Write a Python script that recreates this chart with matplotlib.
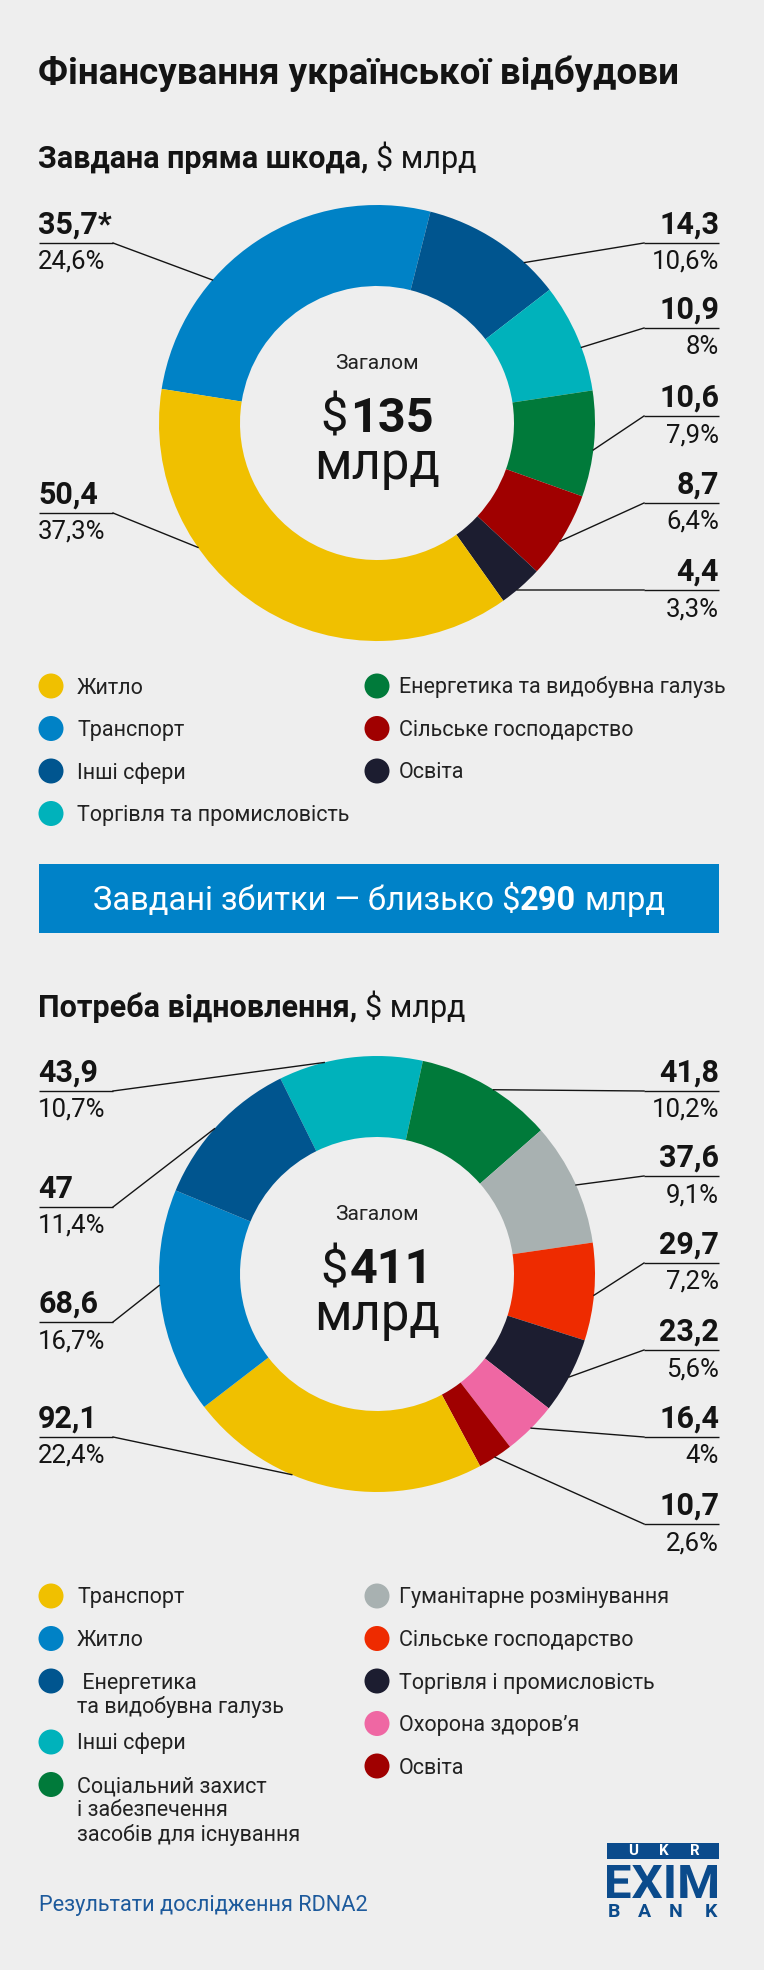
import numpy as np
import matplotlib
matplotlib.use("Agg")
import matplotlib.pyplot as plt
from matplotlib.patches import Circle, Rectangle, PathPatch
from matplotlib.textpath import TextPath
from matplotlib.font_manager import FontProperties
from matplotlib.transforms import Affine2D

plt.rcParams['font.family'] = ['Roboto', 'DejaVu Sans']

# ---- data: direct damage ($ bn), slices clockwise from the left
damage_labels = ["Транспорт", "Інші сфери", "Торгівля та промисловість",
                 "Енергетика та видобувна галузь", "Сільське господарство",
                 "Освіта", "Житло"]
damage_values = [35.7, 14.3, 10.9, 10.6, 8.7, 4.4, 50.4]
damage_notes = ["*", "", "", "", "", "", ""]
damage_shares = ["24,6%", "10,6%", "8%", "7,9%", "6,4%", "3,3%", "37,3%"]
damage_colors = ["#0082c6", "#00558f", "#00b2bb", "#007a3a", "#a00000",
                 "#1c1d30", "#f0c000"]
damage_total = "135"
damage_legend_left = ["Житло", "Транспорт", "Інші сфери", "Торгівля та промисловість"]
damage_legend_right = ["Енергетика та видобувна галузь", "Сільське господарство", "Освіта"]

# ---- data: recovery needs ($ bn), slices clockwise from the top
needs_labels = ["Інші сфери", "Соціальний захист\nі забезпечення\nзасобів для існування",
                "Гуманітарне розмінування", "Сільське господарство",
                "Торгівля і промисловість", "Охорона здоров’я", "Освіта",
                "Транспорт", "Житло", " Енергетика\nта видобувна галузь"]
needs_values = [43.9, 41.8, 37.6, 29.7, 23.2, 16.4, 10.7, 92.1, 68.6, 47.0]
needs_shares = ["10,7%", "10,2%", "9,1%", "7,2%", "5,6%", "4%", "2,6%",
                "22,4%", "16,7%", "11,4%"]
needs_colors = ["#00b2bb", "#007a3a", "#a8b1b1", "#ee2b00", "#1c1d30",
                "#ef67a3", "#a00000", "#f0c000", "#0082c6", "#00558f"]
needs_total = "411"
needs_legend_left = ["Транспорт", "Житло", " Енергетика\nта видобувна галузь",
                     "Інші сфери", "Соціальний захист\nі забезпечення\nзасобів для існування"]
needs_legend_right = ["Гуманітарне розмінування", "Сільське господарство",
                      "Торгівля і промисловість", "Охорона здоров’я", "Освіта"]

# ---- layout (pixels from the top)
W, H = 764, 1970
BG = "#eeeeee"
INK = "#141414"
CX, R_OUT, R_IN = 377, 218, 137
damage_cy, needs_cy = 423, 1274
damage_start, needs_start = 171, 116.3
damage_side = ["L", "R", "R", "R", "R", "R", "L"]
damage_ul = [243, 243, 328, 416, 503, 590, 513]
damage_anchor = [139, 47.4, 20.3, -7.1, -32.8, -50, 214.8]
needs_side = ["L", "R", "R", "R", "R", "R", "R", "L", "L", "L"]
needs_ul = [1091, 1091, 1176, 1263, 1350, 1437, 1524, 1437, 1322, 1207]
needs_anchor = [104, 57.7, 24.1, -5.6, -28.2, -45, -57.2, 247, 183, 138.2]


def Y(y):
    return H - y


fig = plt.figure(figsize=(W / 100, H / 100), dpi=100)
fig.patch.set_facecolor(BG)
ax = fig.add_axes([0, 0, 1, 1])
ax.set_facecolor(BG)
rend = fig.canvas.get_renderer()


def text_width(s, size, weight):
    t = ax.text(0, 0, s, fontsize=size, fontweight=weight)
    w = t.get_window_extent(renderer=rend).width
    t.remove()
    return w


def runs(x, y, parts, size, color, ha="left"):
    # parts: list of (string, weight, gap_after_in_spaces)
    sp = text_width("x x", size, "normal") - text_width("xx", size, "normal")
    widths = [text_width(s, size, w) for s, w, g in parts]
    total = sum(widths) + sum(g * sp for s, w, g in parts)
    if ha == "center":
        x = x - total / 2
    for (s, w, g), wd in zip(parts, widths):
        ax.text(x, Y(y), s, fontsize=size, fontweight=w, color=color,
                ha="left", va="baseline")
        x += wd + g * sp


def fmt(v):
    return f"{v:g}".replace(".", ",")


def donut(values, colors, start, cy, total, notes, shares, sides, uls, anchors):
    ax.pie(values, colors=colors, startangle=start, counterclock=False,
           radius=R_OUT, center=(CX, Y(cy)), frame=True,
           wedgeprops=dict(width=R_OUT - R_IN, linewidth=0))
    ax.text(CX, Y(cy - 54), "Загалом", fontsize=15, color="#222222",
            ha="center", va="baseline")
    runs(CX, cy + 9, [("$", "normal", 0.15), (total, "bold", 0)], 35, INK, ha="center")
    ax.text(CX, Y(cy + 56), "млрд", fontsize=36.5, color=INK, ha="center", va="baseline")
    for v, nt, sh, side, uy, ang in zip(values, notes, shares, sides, uls, anchors):
        px = CX + R_OUT * np.cos(np.radians(ang))
        py = Y(cy) + R_OUT * np.sin(np.radians(ang))
        if side == "L":
            x0, x1, xt, ha, inner = 39, 113, 38, "left", 113
        else:
            x0, x1, xt, ha, inner = 644, 719, 719, "right", 644
        ax.plot([x0, x1], [Y(uy), Y(uy)], color=INK, lw=1.0, solid_capstyle="butt")
        ax.plot([inner, px], [Y(uy), py], color=INK, lw=1.0)
        ax.text(xt, Y(uy - 9), fmt(v) + nt, fontsize=22, fontweight="bold",
                color=INK, ha=ha, va="baseline")
        ax.text(xt, Y(uy + 26), sh, fontsize=18.5, color=INK, ha=ha, va="baseline")


def legend(entries, colors, cx, tx, y0):
    y = y0
    for lab in entries:
        ax.add_patch(Circle((cx, Y(y)), 12.5, color=colors[lab.strip()], lw=0))
        lines = lab.split("\n")
        for i, ln in enumerate(lines):
            ax.text(tx, Y(y + 7.5 + 24.4 * i), ln, fontsize=15.5, color="#222222",
                    ha="left", va="baseline")
        y += 42.5 + 18.5 * (len(lines) - 1)


# title and first chart
ax.text(38, Y(84), "Фінансування української відбудови", fontsize=26.5,
        fontweight="bold", color=INK, ha="left", va="baseline")
runs(38, 168, [("Завдана пряма шкода,", "bold", 1), ("$ млрд", "normal", 0)], 22, INK)
donut(damage_values, damage_colors, damage_start, damage_cy, damage_total,
      damage_notes, damage_shares, damage_side, damage_ul, damage_anchor)
dcol = {k.strip(): c for k, c in zip(damage_labels, damage_colors)}
legend(damage_legend_left, dcol, 51, 77, 686)
legend(damage_legend_right, dcol, 377, 399, 686)

# banner
ax.add_patch(Rectangle((39, Y(933)), 680, 69, color="#0082c8", lw=0))
runs(379, 910, [("Завдані збитки — близько $", "normal", 0), ("290", "bold", 1),
                ("млрд", "normal", 0)], 23.5, "white", ha="center")

# second chart
runs(38, 1017, [("Потреба відновлення,", "bold", 1), ("$ млрд", "normal", 0)], 22, INK)
donut(needs_values, needs_colors, needs_start, needs_cy, needs_total,
      [""] * len(needs_values), needs_shares, needs_side, needs_ul, needs_anchor)
ncol = {k.strip(): c for k, c in zip(needs_labels, needs_colors)}
legend(needs_legend_left, ncol, 51, 77, 1596)
legend(needs_legend_right, ncol, 377, 399, 1596)

# footer
ax.text(39, Y(1911), "Результати дослідження RDNA2", fontsize=15.7,
        color="#1d5a9c", ha="left", va="baseline")

LOGO = "#0b4b8c"
ax.add_patch(Rectangle((607, Y(1859)), 112, 16, color=LOGO, lw=0))
for ch, lx in zip("UKR", [633.5, 663.7, 694.4]):
    ax.text(lx, Y(1851), ch, fontsize=10.8, fontweight="bold", color="white",
            ha="center", va="center")
tp = TextPath((0, 0), "EXIM", size=40, prop=FontProperties(family="Roboto", weight="bold"))
bb = tp.get_extents()
tr = (Affine2D().translate(-bb.x0, -bb.y0)
      .scale(110 / bb.width, 33 / bb.height).translate(607, Y(1898)))
ax.add_patch(PathPatch(tr.transform_path(tp), color=LOGO, lw=0))
for ch, lx in zip("BANK", [614, 644, 676, 710.5]):
    ax.text(lx, Y(1917), ch, fontsize=14, fontweight="bold", color=LOGO,
            ha="center", va="baseline")

ax.set_xlim(0, W)
ax.set_ylim(0, H)
ax.set_aspect("auto")
ax.axis("off")
fig.savefig("out.png", dpi=100, facecolor=BG)
